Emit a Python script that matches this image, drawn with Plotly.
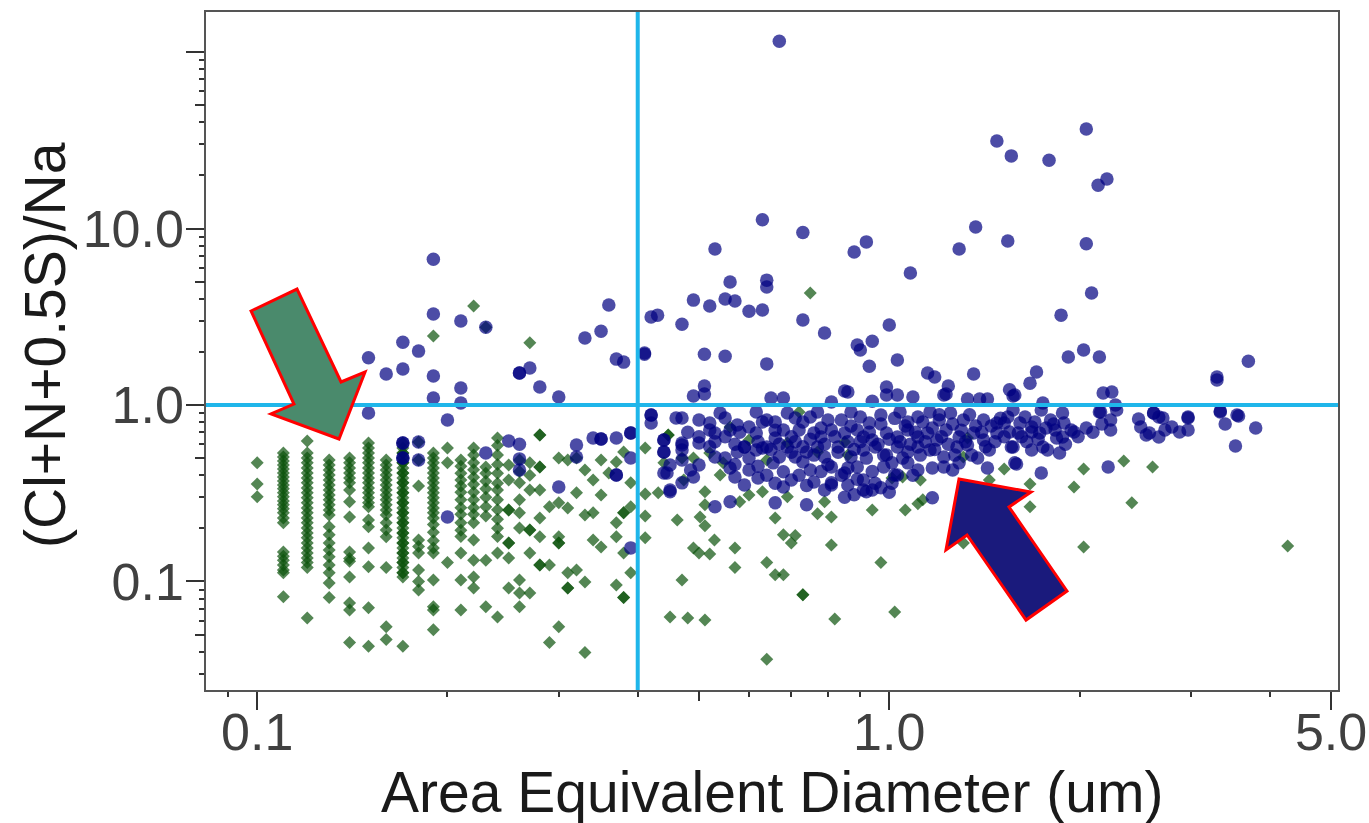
import plotly.graph_objects as go

# ---------------- data ----------------
# green diamonds: small particles sized on a discrete grid -> columns
green_col_d = [0.10, 0.11, 0.12, 0.13, 0.14, 0.15, 0.16, 0.17, 0.17, 0.18, 0.19, 0.20,
               0.21, 0.22, 0.23, 0.24, 0.25, 0.26, 0.27, 0.28, 0.29, 0.30, 0.31, 0.32,
               0.33, 0.34, 0.35, 0.36, 0.37, 0.38, 0.39]
green_col_r = [
    [0.47, 0.357, 0.302],
    [0.535, 0.508, 0.482, 0.457, 0.434, 0.412, 0.391, 0.371, 0.352, 0.335, 0.318, 0.302, 0.286,
     0.272, 0.258, 0.245, 0.229, 0.215, 0.147, 0.139, 0.132, 0.124, 0.116, 0.112, 0.082],
    [0.625, 0.535, 0.501, 0.47, 0.44, 0.412, 0.386, 0.362, 0.339, 0.318, 0.298, 0.279, 0.261,
     0.245, 0.229, 0.215, 0.201, 0.188, 0.177, 0.165, 0.155, 0.145, 0.136, 0.128, 0.12, 0.062],
    [0.488, 0.457, 0.428, 0.401, 0.376, 0.352, 0.33, 0.309, 0.29, 0.272, 0.254, 0.238, 0.204,
     0.184, 0.165, 0.151, 0.138, 0.124, 0.112, 0.098, 0.081],
    [0.501, 0.47, 0.44, 0.412, 0.386, 0.362, 0.33, 0.283, 0.232, 0.147, 0.135, 0.13, 0.106,
     0.0756, 0.069, 0.0451],
    [0.609, 0.571, 0.535, 0.501, 0.47, 0.44, 0.412, 0.386, 0.362, 0.339, 0.318, 0.298, 0.279,
     0.265, 0.223, 0.204, 0.155, 0.121, 0.0709, 0.0429],
    [0.488, 0.457, 0.428, 0.401, 0.376, 0.352, 0.33, 0.309, 0.29, 0.272, 0.254, 0.238, 0.215,
     0.196, 0.179, 0.12, 0.0554, 0.0469],
    [0.609, 0.571, 0.535, 0.501, 0.47, 0.44, 0.412, 0.386, 0.362, 0.339, 0.318, 0.298, 0.279,
     0.261, 0.245, 0.229, 0.215, 0.201, 0.188, 0.177, 0.165, 0.155, 0.145, 0.136, 0.128, 0.12,
     0.112, 0.106, 0.0429],
    [0.535, 0.47, 0.412, 0.362, 0.318, 0.279, 0.245, 0.215, 0.188, 0.165, 0.145, 0.128, 0.112],
    [0.617, 0.488, 0.348, 0.172, 0.158, 0.145, 0.116, 0.1, 0.0894],
    [0.535, 0.501, 0.47, 0.44, 0.412, 0.386, 0.362, 0.339, 0.318, 0.298, 0.279, 0.261, 0.245,
     0.229, 0.21, 0.19, 0.17, 0.155, 0.145, 0.102, 0.0718, 0.069, 0.0533],
    [0.571, 0.47, 0.128],
    [0.488, 0.45, 0.41, 0.376, 0.348, 0.32, 0.29, 0.262, 0.24, 0.215, 0.195, 0.18, 0.145, 0.102, 0.069],
    [0.571, 0.52, 0.47, 0.43, 0.39, 0.355, 0.32, 0.29, 0.262, 0.24, 0.215, 0.172, 0.132, 0.106, 0.0918],
    [0.445, 0.41, 0.37, 0.335, 0.3, 0.265, 0.235, 0.132, 0.0718],
    [0.65, 0.59, 0.52, 0.46, 0.41, 0.36, 0.33, 0.29, 0.255, 0.225, 0.2, 0.18, 0.145, 0.063],
    [0.457, 0.376, 0.254, 0.254, 0.165, 0.165, 0.136, 0.0918],
    [0.488, 0.42, 0.362, 0.29, 0.245, 0.201, 0.102, 0.0861, 0.0718],
    [0.47, 0.4, 0.33, 0.196, 0.196, 0.145, 0.086],
    [0.676, 0.676, 0.445, 0.445, 0.33, 0.229, 0.179, 0.124, 0.124],
    [0.265, 0.124, 0.0451],
    [0.501, 0.279, 0.179, 0.165, 0.165, 0.0554],
    [0.488, 0.261, 0.112, 0.0918, 0.0918],
    [0.501, 0.318, 0.116],
    [0.428, 0.238, 0.0994, 0.0396],
    [0.376, 0.245, 0.172],
    [0.488, 0.309, 0.157],
    [0.412],
    [0.476, 0.215, 0.179, 0.0954],
    [0.542, 0.245, 0.245, 0.145, 0.081, 0.081],
    [0.265, 0.362, 0.112],
]
# green diamonds: larger particles (diameter um, ratio)
green_pts = [
    (0.22, 3.64), (0.19, 2.46), (0.23, 2.76), (0.27, 2.25), (0.75, 4.31),
    (0.411, 0.571), (0.447, 0.676), (0.447, 0.676), (0.44, 0.47), (0.47, 0.501), (0.49, 0.501),
    (0.473, 0.376), (0.431, 0.318), (0.411, 0.313), (0.511, 0.322), (0.511, 0.272),
    (0.462, 0.223), (0.502, 0.232), (0.511, 0.207), (0.411, 0.235), (0.411, 0.177),
    (0.529, 0.172), (0.49, 0.155), (0.50, 0.145), (0.52, 0.143), (0.57, 0.155), (0.57, 0.12),
    (0.47, 0.102), (0.45, 0.063), (0.48, 0.062), (0.511, 0.0605), (0.64, 0.128), (0.66, 0.109),
    (0.68, 0.109), (0.73, 0.084), (0.73, 0.084), (0.64, 0.0362), (0.82, 0.0613), (1.02, 0.0672),
    (0.97, 0.128), (0.81, 0.161), (0.70, 0.165), (0.68, 0.184), (0.71, 0.182), (0.66, 0.229),
    (0.77, 0.242), (0.81, 0.232), (0.94, 0.254), (1.06, 0.254), (1.11, 0.276), (1.13, 0.29),
    (0.63, 0.322), (0.69, 0.302), (0.79, 0.283), (0.60, 0.309), (0.58, 0.283), (0.54, 0.401),
    (0.546, 0.47), (0.52, 0.535), (0.56, 0.75), (0.60, 0.634), (0.64, 0.488), (0.69, 0.609),
    (0.77, 0.542), (0.85, 0.617), (0.86, 0.521), (0.72, 0.913), (1.05, 0.391), (1.01, 0.386),
    (1.12, 0.376), (1.31, 0.508), (1.44, 0.376), (1.52, 0.434), (1.31, 0.165), (1.33, 0.65),
    (1.67, 0.357), (1.67, 0.265), (2.03, 0.434), (1.96, 0.343), (2.35, 0.482), (2.61, 0.445),
    (2.42, 0.279), (2.03, 0.157), (4.27, 0.159),
]
# blue circles (diameter um, ratio)
blue_pts = [
    (0.67, 115), (0.63, 11.2), (0.73, 9.5), (1.37, 10.2), (1.48, 31.3), (1.56, 25.8), (1.79, 24.4),
    (2.05, 36.6), (2.14, 17.6), (2.21, 19.1),
    (1.54, 8.5), (0.53, 7.65), (0.88, 7.36), (0.92, 8.4), (1.29, 7.65), (2.05, 8.2), (1.08, 5.6),
    (0.56, 4.98), (0.64, 5.1), (0.64, 4.66), (2.09, 4.31), (0.49, 3.93), (0.52, 3.64), (0.55, 3.99),
    (0.57, 3.88), (0.60, 3.40), (0.63, 3.45), (0.42, 3.15), (0.43, 3.23), (0.47, 2.87), (0.73, 3.03),
    (0.79, 2.56), (1.0, 2.84), (1.87, 3.23), (0.89, 2.19), (0.90, 2.05), (0.94, 2.30), (0.41, 1.94),
    (0.51, 1.94), (0.55, 1.89), (0.64, 1.71), (0.93, 1.66), (1.03, 1.80), (1.92, 1.87), (2.03, 2.05),
    (2.15, 1.87), (3.70, 1.77), (1.15, 1.52), (1.18, 1.44), (1.36, 1.50), (1.71, 1.54), (1.67, 1.33),
    (3.30, 1.44), (0.51, 1.28), (0.49, 1.125), (0.51, 1.155), (0.65, 1.095), (0.68, 1.095),
    (0.85, 1.20), (0.99, 1.265), (0.99, 1.14), (1.24, 1.28), (1.23, 1.155), (1.55, 1.22),
    (1.57, 1.125), (2.18, 1.17), (2.25, 1.185), (1.09, 1.11), (2.28, 1.0), (2.62, 0.90),
    (2.67, 0.855), (2.97, 0.855), (3.34, 0.925), (3.55, 0.878), (2.15, 0.913),
    (0.19, 6.7), (0.19, 3.28), (0.21, 2.99), (0.23, 2.76), (0.17, 2.27), (0.18, 2.02), (0.15, 1.85),
    (0.16, 1.50), (0.17, 1.60), (0.19, 1.46), (0.19, 1.095), (0.21, 1.25), (0.21, 1.026),
    (0.26, 1.52), (0.26, 1.52), (0.27, 1.62), (0.28, 1.265), (0.30, 1.11), (0.33, 2.40), (0.35, 2.62),
    (0.36, 3.69), (0.37, 1.82), (0.38, 1.75), (0.41, 1.97), (0.15, 0.90), (0.20, 0.822),
    (0.17, 0.609), (0.17, 0.609), (0.18, 0.617), (0.17, 0.501), (0.17, 0.501), (0.18, 0.488),
    (0.23, 0.535), (0.25, 0.625), (0.26, 0.60), (0.26, 0.495), (0.26, 0.428), (0.32, 0.593),
    (0.32, 0.508), (0.34, 0.65), (0.35, 0.642), (0.35, 0.642), (0.37, 0.65), (0.39, 0.694),
    (0.39, 0.694), (0.39, 0.501), (0.37, 0.401), (0.37, 0.401), (0.30, 0.343), (0.20, 0.232),
    (0.39, 0.155), (0.42, 0.878), (0.42, 0.878), (0.42, 0.79), (0.44, 0.634), (0.44, 0.542),
    (0.47, 0.593), (0.47, 0.488), (0.45, 0.322), (0.49, 0.391), (0.445, 0.412), (0.46, 0.844),
    (0.47, 0.844),
    (0.86, 1.185), (1.03, 1.14), (1.22, 1.14), (1.33, 1.08), (1.39, 1.08), (1.43, 1.08), (1.58, 1.14),
    (0.81, 1.04), (0.94, 1.05),
    (0.50, 0.822), (0.52, 0.79), (0.54, 0.90), (0.55, 0.844), (0.575, 0.77), (0.616, 0.913),
    (0.64, 0.822), (0.66, 0.80), (0.69, 0.90), (0.71, 0.844), (0.75, 0.855), (0.77, 0.913),
    (0.80, 0.822), (0.84, 0.822), (0.87, 0.913), (0.90, 0.855), (0.93, 0.79), (0.97, 0.878),
    (1.04, 0.913), (1.07, 0.80), (1.11, 0.855), (1.16, 0.913), (1.20, 0.822), (1.25, 0.90),
    (1.31, 0.822), (1.41, 0.822), (1.48, 0.79), (1.54, 0.855), (1.61, 0.79),
    (0.44, 0.634), (0.47, 0.609), (0.52, 0.722), (0.53, 0.694), (0.56, 0.722), (0.59, 0.578),
    (0.616, 0.694), (0.63, 0.571), (0.66, 0.65), (0.68, 0.722), (0.72, 0.722), (0.76, 0.694),
    (0.78, 0.659), (0.81, 0.722), (0.85, 0.694), (0.89, 0.722), (0.91, 0.659), (0.94, 0.634),
    (0.99, 0.694), (1.03, 0.659), (1.07, 0.722), (1.11, 0.659), (1.15, 0.694), (1.19, 0.634),
    (1.23, 0.722), (1.29, 0.659), (1.36, 0.694), (1.41, 0.634), (1.48, 0.694), (1.55, 0.703),
    (0.44, 0.542), (0.47, 0.556), (0.50, 0.609), (0.53, 0.508), (0.575, 0.542), (0.59, 0.578),
    (0.616, 0.556), (0.64, 0.578), (0.67, 0.508), (0.69, 0.578), (0.71, 0.508), (0.74, 0.542),
    (0.77, 0.578), (0.79, 0.508), (0.83, 0.578), (0.87, 0.508), (0.91, 0.556), (0.95, 0.578),
    (0.99, 0.521), (1.03, 0.578), (1.07, 0.542), (1.11, 0.578), (1.16, 0.556), (1.22, 0.508),
    (1.28, 0.578), (1.33, 0.593), (1.44, 0.556), (1.56, 0.578),
    (0.44, 0.412), (0.45, 0.457), (0.485, 0.428), (0.50, 0.457), (0.56, 0.44), (0.57, 0.391),
    (0.60, 0.428), (0.62, 0.386), (0.655, 0.47), (0.68, 0.418), (0.70, 0.376), (0.73, 0.476),
    (0.75, 0.428), (0.76, 0.366), (0.81, 0.445), (0.81, 0.352), (0.85, 0.412), (0.86, 0.352),
    (0.89, 0.445), (0.91, 0.376), (0.91, 0.33), (0.94, 0.33), (0.98, 0.445), (1.01, 0.47),
    (1.03, 0.401), (1.07, 0.47), (1.11, 0.428), (1.17, 0.44), (1.22, 0.445), (1.26, 0.428),
    (1.29, 0.47), (1.38, 0.501), (1.43, 0.44), (1.58, 0.47),
    (0.45, 0.33), (0.47, 0.362), (0.53, 0.265), (0.56, 0.283), (0.59, 0.352), (0.66, 0.279),
    (0.68, 0.343), (0.74, 0.272), (0.81, 0.362), (0.92, 0.322), (1.02, 0.401), (1.17, 0.298),
    (3.30, 1.385), (1.52, 0.79), (1.57, 0.937), (1.64, 0.855), (1.68, 0.75), (1.74, 0.937),
    (1.75, 1.026), (1.80, 0.822), (1.83, 0.722), (1.88, 0.90), (1.89, 0.79), (1.94, 0.722),
    (1.96, 0.703), (1.60, 0.694), (1.68, 0.703), (1.73, 0.694), (1.84, 0.65), (1.88, 0.659),
    (1.57, 0.578), (1.68, 0.556), (1.75, 0.578), (1.78, 0.556), (1.86, 0.535), (1.59, 0.463),
    (1.74, 0.412), (2.22, 0.445), (2.16, 0.913), (2.29, 0.937), (2.17, 0.78), (2.24, 0.822),
    (2.24, 0.722), (2.48, 0.833), (2.50, 0.75), (2.55, 0.676), (2.62, 0.90), (2.71, 0.844),
    (2.58, 0.694), (2.67, 0.659), (2.73, 0.722), (2.80, 0.75), (2.88, 0.703), (2.97, 0.844),
    (2.97, 0.722), (3.34, 0.913), (3.40, 0.78), (3.57, 0.866), (3.53, 0.585), (3.80, 0.74),
    # dense core of the main cluster
    (0.53, 0.62), (0.55, 0.66), (0.57, 0.60), (0.58, 0.70), (0.60, 0.75), (0.62, 0.62),
    (0.63, 0.80), (0.65, 0.56), (0.66, 0.72), (0.67, 0.60), (0.70, 0.66), (0.70, 0.54),
    (0.71, 0.62), (0.73, 0.80), (0.73, 0.58), (0.75, 0.64), (0.76, 0.52), (0.78, 0.74),
    (0.79, 0.60), (0.80, 0.46), (0.82, 0.66), (0.83, 0.54), (0.84, 0.40), (0.86, 0.62),
    (0.87, 0.76), (0.88, 0.56), (0.89, 0.38), (0.90, 0.62), (0.92, 0.50), (0.93, 0.70),
    (0.94, 0.42), (0.96, 0.60), (0.97, 0.78), (0.98, 0.52), (1.00, 0.64), (1.01, 0.36),
    (1.02, 0.84), (1.04, 0.62), (1.05, 0.50), (1.06, 0.76), (1.08, 0.60), (1.09, 0.40),
    (1.10, 0.70), (1.12, 0.52), (1.13, 0.80), (1.14, 0.62), (1.17, 0.74), (1.18, 0.56),
    (1.20, 0.88), (1.21, 0.66), (1.24, 0.60), (1.26, 0.78), (1.27, 0.52), (1.30, 0.72),
    (1.32, 0.62), (1.34, 0.88), (1.35, 0.52), (1.37, 0.76), (1.40, 0.70), (1.42, 0.58),
    (1.45, 0.76), (1.47, 0.62), (1.50, 0.84), (1.52, 0.66), (1.62, 0.66), (1.65, 0.62),
    (1.70, 0.80), (1.72, 0.64), (1.77, 0.74), (1.82, 0.78), (1.90, 0.60), (1.99, 0.66),
    (2.05, 0.74), (2.10, 0.70), (0.48, 0.70), (0.50, 0.66), (0.52, 0.58), (0.55, 0.50),
    (0.57, 0.46), (0.60, 0.50), (0.62, 0.45), (0.64, 0.40), (0.66, 0.36), (0.72, 0.40),
    (0.78, 0.42), (0.86, 0.44), (0.95, 0.36), (1.00, 0.32), (0.97, 0.34), (0.88, 0.31),
    (0.85, 0.30), (0.79, 0.33), (0.74, 0.35),
]

x_tickvals = [0.1, 1.0, 5.0]
x_ticktext = ["0.1", "1.0", "5.0"]
x_minor = [0.09, 0.2, 0.3, 0.4, 0.6, 0.7, 0.8, 0.9, 2.0, 3.0, 4.0]
x_mid = [0.5]
y_tickvals = [0.1, 1.0, 10.0, 100.0]
y_ticktext = ["0.1", "1.0", "10.0", ""]
y_minor = [0.03, 0.04, 0.06, 0.07, 0.08, 0.09, 0.2, 0.3, 0.4, 0.6, 0.7, 0.8, 0.9,
           2, 3, 4, 6, 7, 8, 9, 20, 30, 40, 60, 70, 80, 90]
y_mid = [0.05, 0.5, 5.0, 50.0]
threshold_d = 0.4
threshold_r = 1.0
x_title = "Area Equivalent Diameter (um)"
y_title = "(Cl+N+0.5S)/Na"

# ---------------- build ----------------
gx, gy = [], []
for d, rs in zip(green_col_d, green_col_r):
    for r in rs:
        gx.append(d)
        gy.append(r)
for d, r in green_pts:
    gx.append(d)
    gy.append(r)
bx = [p[0] for p in blue_pts]
by = [p[1] for p in blue_pts]

W, H = 1369, 823
ML, MR, MT, MB = 206, 31, 12, 133
PW, PH = W - ML - MR, H - MT - MB
XR = [-1.081, 0.710]
YR = [-1.615, 2.227]
FONT = "Liberation Sans, Arial, sans-serif"
TICKC = "#333333"
LINEBLUE = "#1fb6ea"

fig = go.Figure()
fig.add_trace(go.Scatter(x=gx, y=gy, mode="markers", showlegend=False, hoverinfo="skip",
                         marker=dict(symbol="diamond", size=10, color="rgb(12,82,12)",
                                     opacity=0.7, line=dict(width=0))))
fig.add_trace(go.Scatter(x=bx, y=by, mode="markers", showlegend=False, hoverinfo="skip",
                         marker=dict(symbol="circle", size=13.5, color="rgb(0,0,128)",
                                     opacity=0.7, line=dict(width=0))))
# threshold lines
fig.add_trace(go.Scatter(x=[threshold_d, threshold_d], y=[1e-3, 1e4], mode="lines",
                         line=dict(color=LINEBLUE, width=4), showlegend=False, hoverinfo="skip"))
fig.add_trace(go.Scatter(x=[1e-2, 1e2], y=[threshold_r, threshold_r], mode="lines",
                         line=dict(color=LINEBLUE, width=4), showlegend=False, hoverinfo="skip"))
# helper traces for mid-length ticks on overlay axes
fig.add_trace(go.Scatter(x=[1], y=[1], xaxis="x2", yaxis="y", mode="markers",
                         marker=dict(opacity=0), showlegend=False, hoverinfo="skip"))
fig.add_trace(go.Scatter(x=[1], y=[1], xaxis="x", yaxis="y2", mode="markers",
                         marker=dict(opacity=0), showlegend=False, hoverinfo="skip"))

axis_common = dict(type="log", showgrid=False, zeroline=False, ticks="outside",
                   tickwidth=2, tickcolor=TICKC, ticklen=18, automargin=False,
                   tickfont=dict(family=FONT, size=52, color="#404040"))

fig.update_layout(
    width=W, height=H, margin=dict(l=ML, r=MR, t=MT, b=MB, autoexpand=False),
    paper_bgcolor="white", plot_bgcolor="white",
    xaxis=dict(**axis_common, range=XR, tickmode="array", tickvals=x_tickvals,
               ticktext=x_ticktext, showline=True, linecolor="#555555", linewidth=1.5,
               mirror=True, ticklabelstandoff=-22,
               minor=dict(tickmode="array", tickvals=x_minor, ticks="outside", ticklen=5,
                          tickwidth=2, tickcolor=TICKC, showgrid=False)),
    yaxis=dict(**axis_common, range=YR, tickmode="array", tickvals=y_tickvals,
               ticktext=y_ticktext, showline=True, linecolor="#555555", linewidth=1.5,
               mirror=True, ticklabelstandoff=-8,
               minor=dict(tickmode="array", tickvals=y_minor, ticks="outside", ticklen=5,
                          tickwidth=2, tickcolor=TICKC, showgrid=False)),
    xaxis2=dict(type="log", range=XR, overlaying="x", anchor="y", side="bottom",
                tickmode="array", tickvals=x_mid, ticks="outside", ticklen=10, tickwidth=2,
                tickcolor=TICKC, showticklabels=False, showline=False, showgrid=False,
                zeroline=False, automargin=False),
    yaxis2=dict(type="log", range=YR, overlaying="y", anchor="x", side="left",
                tickmode="array", tickvals=y_mid, ticks="outside", ticklen=10, tickwidth=2,
                tickcolor=TICKC, showticklabels=False, showline=False, showgrid=False,
                zeroline=False, automargin=False),
)

# axis titles placed as text annotations below / left of the plot area
fig.add_annotation(text=x_title, xref="paper", yref="paper", x=0.5,
                   y=(H - MB - 792) / PH, xanchor="center", yanchor="middle", showarrow=False,
                   font=dict(family=FONT, size=57, color="#1a1a1a"))
fig.add_annotation(text=y_title, xref="paper", yref="paper", x=(45 - ML) / PW,
                   y=(H - MB - 345) / PH, xanchor="center", yanchor="middle", showarrow=False,
                   textangle=-90, font=dict(family=FONT, size=57, color="#1a1a1a"))

# ---------------- block arrows (annotation graphics, pixel outline -> paper) ----------------


def to_paper_path(pix):
    pts = [((x - ML) / PW, (H - MB - y) / PH) for x, y in pix]
    return "M " + " L ".join(f"{a:.4f},{b:.4f}" for a, b in pts) + " Z"


green_arrow = [(251, 311), (297, 289), (341, 382), (365, 372), (339, 439), (271, 414), (294, 404)]
blue_arrow = [(959, 479), (1031, 492), (1009, 507), (1067, 591), (1026, 620), (967, 535), (946, 550)]

fig.add_shape(type="path", xref="paper", yref="paper", path=to_paper_path(green_arrow),
              fillcolor="#4a8a6c", line=dict(color="#ff0000", width=3), layer="above")
fig.add_shape(type="path", xref="paper", yref="paper", path=to_paper_path(blue_arrow),
              fillcolor="#1a1a7c", line=dict(color="#ff0000", width=3), layer="above")

fig.write_html("out.html")
